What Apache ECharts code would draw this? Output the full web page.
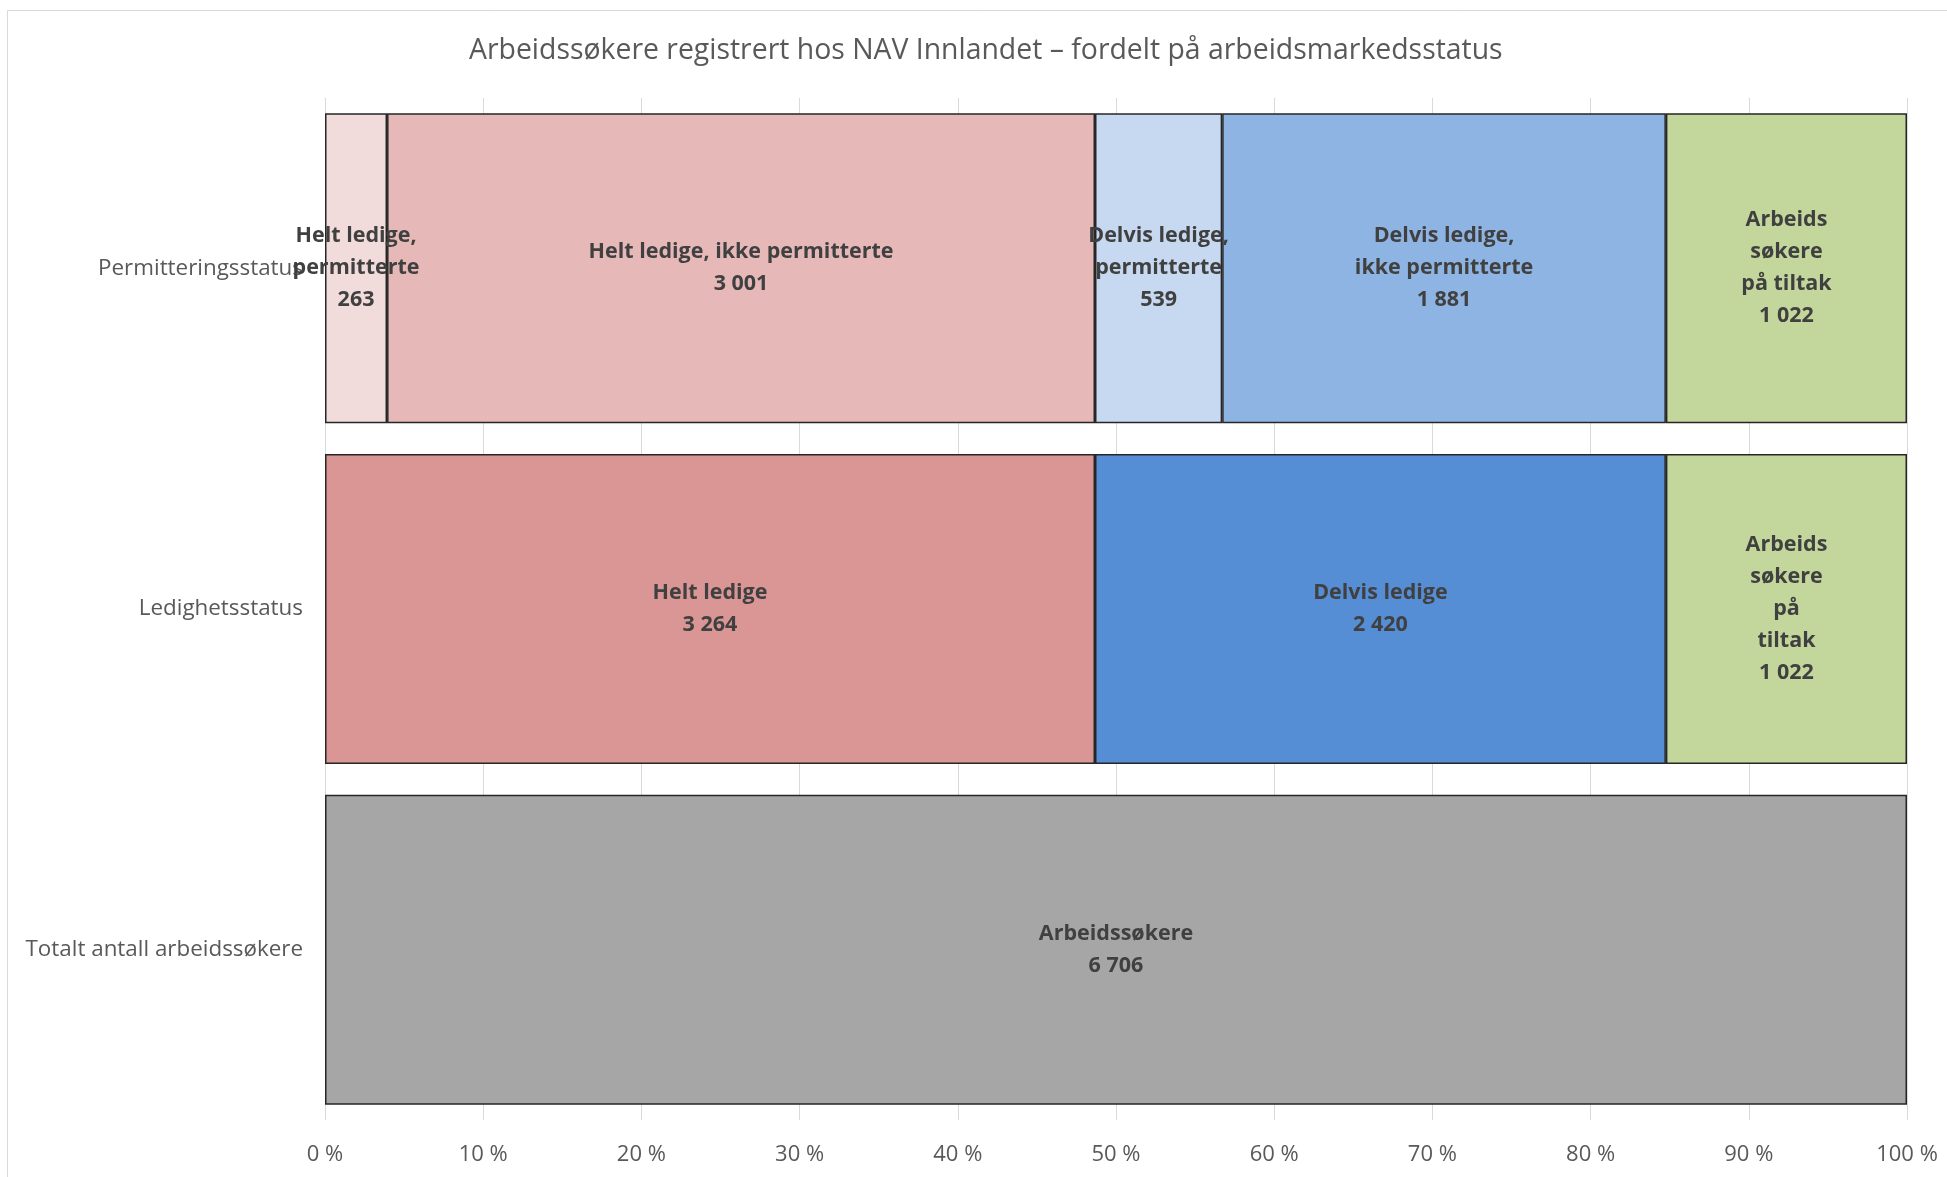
<!DOCTYPE html>
<html>
<head>
<meta charset="utf-8">
<script src="https://cdn.jsdelivr.net/npm/echarts@6/dist/echarts.min.js"></script>
<style>
html,body{margin:0;padding:0;background:#fff;}
#chart{width:1947px;height:1177px;}
</style>
</head>
<body>
<div id="chart"></div>
<script>
var categories = ['Permitteringsstatus', 'Ledighetsstatus', 'Totalt antall arbeidssøkere'];
var tickLabels = ['0 %','10 %','20 %','30 %','40 %','50 %','60 %','70 %','80 %','90 %','100 %'];

var seriesNames = ['Helt ledige, permitterte', 'Helt ledige, ikke permitterte', 'Helt ledige',
  'Delvis ledige, permitterte', 'Delvis ledige, ikke permitterte', 'Delvis ledige',
  'Arbeidssøkere på tiltak', 'Arbeidssøkere'];

var heltLedigePermitterte     = [263, null, null];
var heltLedigeIkkePermitterte = [3001, null, null];
var heltLedige                = [null, 3264, null];
var delvisLedigePermitterte   = [539, null, null];
var delvisLedigeIkkePermitterte = [1881, null, null];
var delvisLedige              = [null, 2420, null];
var paaTiltak                 = [1022, 1022, null];
var arbeidssokere             = [null, null, 6706];

var labelTexts = [
  ['Helt ledige,\npermitterte', null, null],
  ['Helt ledige, ikke permitterte', null, null],
  [null, 'Helt ledige', null],
  ['Delvis ledige,\npermitterte', null, null],
  ['Delvis ledige,\nikke permitterte', null, null],
  [null, 'Delvis ledige', null],
  ['Arbeids\nsøkere\npå tiltak', 'Arbeids\nsøkere\npå\ntiltak', null],
  [null, null, 'Arbeidssøkere']
];

var colors = ['#F2DCDB', '#E6B9B8', '#D99694', '#C6D9F1', '#8EB4E3', '#558ED5', '#C3D69B', '#A6A6A6'];

var allValues = [heltLedigePermitterte, heltLedigeIkkePermitterte, heltLedige,
  delvisLedigePermitterte, delvisLedigeIkkePermitterte, delvisLedige, paaTiltak, arbeidssokere];

var rowTotals = categories.map(function (c, i) {
  var s = 0;
  allValues.forEach(function (arr) { if (arr[i] != null) s += arr[i]; });
  return s;
});

function fmt(n) {
  return String(n).replace(/\B(?=(\d{3})+(?!\d))/g, ' ');
}

var FONT = '"Open Sans", sans-serif';

var series = allValues.map(function (arr, si) {
  return {
    name: seriesNames[si],
    type: 'bar',
    stack: 'total',
    barCategoryGap: '9%',
    itemStyle: { color: colors[si], borderColor: '#262626', borderWidth: 1.5 },
    label: {
      show: true,
      position: 'inside',
      fontFamily: FONT,
      fontWeight: 'bold',
      fontSize: 21.5,
      lineHeight: 32,
      color: '#404040',
      align: 'center',
      formatter: function (p) {
        return labelTexts[si][p.dataIndex] + '\n' + fmt(arr[p.dataIndex]);
      }
    },
    data: arr.map(function (v, i) {
      return v == null ? '-' : v / rowTotals[i] * 100;
    })
  };
});

var chart = echarts.init(document.getElementById('chart'), null, { renderer: 'canvas' });
chart.setOption({
  backgroundColor: '#ffffff',
  animation: false,
  title: {
    text: 'Arbeidssøkere registrert hos NAV Innlandet – fordelt på arbeidsmarkedsstatus',
    left: 469,
    top: 37,
    padding: 0,
    textStyle: { fontFamily: FONT, fontSize: 28.4, fontWeight: 'normal', color: '#595959' }
  },
  graphic: [{
    type: 'rect',
    shape: { x: 7.5, y: 10.5, width: 1960, height: 1200 },
    style: { fill: 'none', stroke: '#D9D9D9', lineWidth: 1 },
    silent: true,
    z: -10
  }],
  grid: { left: 325, right: 40, top: 98, bottom: 57, containLabel: false },
  xAxis: {
    type: 'value',
    min: 0,
    max: 100,
    interval: 10,
    axisLine: { show: false },
    axisTick: { show: false },
    splitLine: { show: true, lineStyle: { color: '#D9D9D9', width: 1 } },
    axisLabel: {
      margin: 24,
      fontFamily: FONT,
      fontSize: 22,
      color: '#595959',
      formatter: function (v) { return tickLabels[Math.round(v / 10)]; }
    }
  },
  yAxis: {
    type: 'category',
    inverse: true,
    data: categories,
    axisLine: { show: false },
    axisTick: { show: false },
    axisLabel: { margin: 22, fontFamily: FONT, fontSize: 22.4, color: '#595959' }
  },
  series: series
});
</script>
</body>
</html>
